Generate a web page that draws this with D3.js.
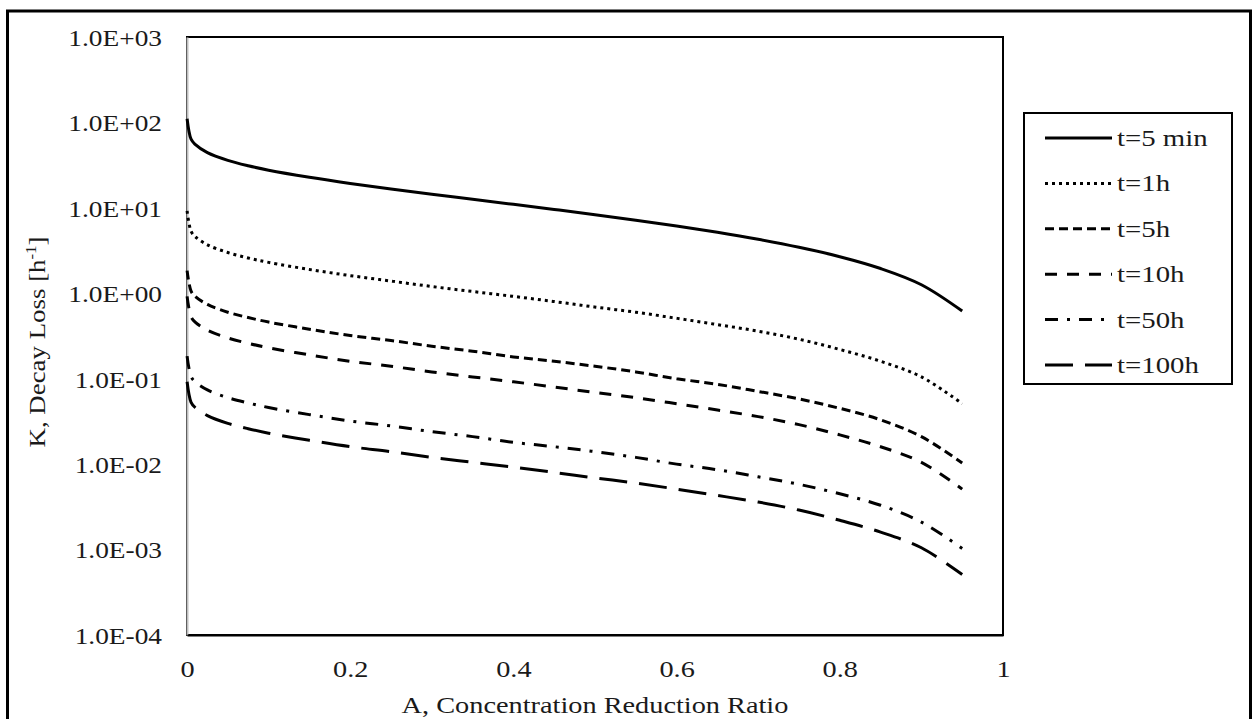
<!DOCTYPE html>
<html>
<head>
<meta charset="utf-8">
<script src="https://cdn.jsdelivr.net/npm/d3@7"></script>
<style>
	body { margin: 0; background: #fff; }
	text { font-family: "Liberation Serif", "Times New Roman", serif; fill: #1a1a1a; }
</style>
</head>
<body>
<div class="container"></div>
<script>

// concentration reduction ratio A (x values shared by every curve)
var ratioA = [0.0001, 0.005, 0.01, 0.025, 0.05, 0.075, 0.1, 0.15, 0.2, 0.25, 0.3, 0.35,
	0.4, 0.45, 0.5, 0.55, 0.6, 0.65, 0.7, 0.75, 0.8, 0.85, 0.9, 0.95];

// decay loss K [1/h], one array per time
var k5min = [110.5, 63.6, 55.3, 44.3, 36.0, 31.1, 27.6, 22.8, 19.3, 16.6, 14.4, 12.6,
	11.0, 9.58, 8.32, 7.17, 6.13, 5.17, 4.28, 3.45, 2.68, 1.95, 1.26, 0.62];
var k1h = [9.21, 5.30, 4.61, 3.69, 3.00, 2.59, 2.30, 1.90, 1.61, 1.39, 1.20, 1.05,
	0.92, 0.80, 0.69, 0.60, 0.51, 0.43, 0.36, 0.29, 0.22, 0.16, 0.105, 0.051];
var k5h = [1.84, 1.06, 0.92, 0.74, 0.60, 0.52, 0.46, 0.38, 0.32, 0.28, 0.24, 0.21,
	0.18, 0.16, 0.14, 0.12, 0.10, 0.086, 0.071, 0.058, 0.045, 0.033, 0.021, 0.0103];
var k10h = [0.92, 0.53, 0.46, 0.37, 0.30, 0.26, 0.23, 0.19, 0.16, 0.14, 0.12, 0.105,
	0.092, 0.080, 0.069, 0.060, 0.051, 0.043, 0.036, 0.029, 0.022, 0.016, 0.0105, 0.0051];
var k50h = [0.184, 0.106, 0.092, 0.074, 0.060, 0.052, 0.046, 0.038, 0.032, 0.028, 0.024, 0.021,
	0.018, 0.016, 0.014, 0.012, 0.010, 0.0086, 0.0071, 0.0058, 0.0045, 0.0033, 0.0021, 0.00103];
var k100h = [0.092, 0.053, 0.046, 0.037, 0.030, 0.026, 0.023, 0.019, 0.016, 0.014, 0.012, 0.0105,
	0.0092, 0.0080, 0.0069, 0.0060, 0.0051, 0.0043, 0.0036, 0.0029, 0.0022, 0.0016, 0.00105, 0.00051];

var seriesNames = ["t=5 min", "t=1h", "t=5h", "t=10h", "t=50h", "t=100h"];
var seriesValues = [k5min, k1h, k5h, k10h, k50h, k100h];

var xTicks = [0, 0.2, 0.4, 0.6, 0.8, 1];
var xTickLabels = ["0", "0.2", "0.4", "0.6", "0.8", "1"];
var yTicks = [1e-4, 1e-3, 1e-2, 1e-1, 1, 10, 100, 1000];
var yTickLabels = ["1.0E-04", "1.0E-03", "1.0E-02", "1.0E-01", "1.0E+00", "1.0E+01", "1.0E+02", "1.0E+03"];

var xTitle = "A, Concentration Reduction Ratio";

// line styles for each series
var dashes = ["none", "3,4", "9,5", "12,10", "13,9,3,9", "28,12"];

var W = 1253, H = 719;
var plot = {left: 187, right: 1003, top: 37, bottom: 635};
var stretch = 1.18; // glyphs in the picture are wider than plain Times

var svg = d3.select(".container")
	.append("svg")
	.attr("width", W)
	.attr("height", H);

svg.append("rect")
	.attr("width", W).attr("height", H)
	.style("fill", "#fff");

// outer border
svg.append("rect")
	.attr("x", 7.5).attr("y", 11)
	.attr("width", 1243).attr("height", 730)
	.style("fill", "none")
	.style("stroke", "#000")
	.style("stroke-width", "3px");

var x = d3.scaleLinear().domain([0, 1]).range([plot.left, plot.right]);
var y = d3.scaleLog().domain([1e-4, 1e3]).range([plot.bottom, plot.top]);

// plot frame
svg.append("rect")
	.attr("x", plot.left).attr("y", plot.top)
	.attr("width", plot.right - plot.left)
	.attr("height", plot.bottom - plot.top)
	.style("fill", "none")
	.style("stroke", "#000")
	.style("stroke-width", "2px");

var yAxis = svg.append("g")
	.attr("transform", "translate(" + plot.left + ",0)")
	.call(d3.axisLeft(y)
		.tickValues(yTicks)
		.tickSize(0)
		.tickFormat(function (d, i) { return yTickLabels[i]; }));
yAxis.select(".domain").style("stroke", "#bfbfbf").style("stroke-width", "2px");
yAxis.selectAll("text")
	.attr("x", -25 / 1.14)
	.attr("dy", "0.35em")
	.attr("transform", "scale(1.14,1)")
	.style("font-size", "24px")
	.style("font-family", "'Liberation Serif', serif")
	.style("fill", "#1a1a1a");

var xAxis = svg.append("g")
	.attr("transform", "translate(0," + plot.bottom + ")")
	.call(d3.axisBottom(x)
		.tickValues(xTicks)
		.tickSize(0)
		.tickFormat(function (d, i) { return xTickLabels[i]; }));
xAxis.select(".domain").style("stroke", "#000").style("stroke-width", "2px");
xAxis.selectAll(".tick text")
	.attr("y", 42)
	.attr("dy", 0)
	.attr("transform", "scale(" + stretch + ",1)")
	.style("font-size", "24px")
	.style("font-family", "'Liberation Serif', serif")
	.style("fill", "#1a1a1a");

// curves, smoothed like the spreadsheet lines
var line = d3.line()
	.x(function (d) { return x(d[0]); })
	.y(function (d) { return y(d[1]); })
	.curve(d3.curveCatmullRom.alpha(0.5));

seriesValues.forEach(function (vals, i) {
	var pts = ratioA.map(function (a, j) { return [a, vals[j]]; });
	svg.append("path")
		.datum(pts)
		.attr("d", line)
		.style("fill", "none")
		.style("stroke", "#000")
		.style("stroke-width", "3px")
		.style("stroke-dasharray", dashes[i]);
});

// axis titles
svg.append("text")
	.attr("transform", "translate(595,713) scale(" + stretch + ",1)")
	.attr("text-anchor", "middle")
	.style("font-size", "24px")
	.text(xTitle);

var yTitle = svg.append("text")
	.attr("transform", "translate(45,342) rotate(-90) scale(1.12,1)")
	.attr("text-anchor", "middle")
	.style("font-size", "24px");
yTitle.append("tspan").text("K, Decay Loss [h");
yTitle.append("tspan").attr("dy", -9).style("font-size", "15px").text("-1");
yTitle.append("tspan").attr("dy", 9).text("]");

// legend
var legend = svg.append("g");
legend.append("rect")
	.attr("x", 1024).attr("y", 113)
	.attr("width", 208).attr("height", 271)
	.style("fill", "#fff")
	.style("stroke", "#000")
	.style("stroke-width", "2px");

var rowY = d3.scalePoint().domain(seriesNames).range([138, 365]);

seriesNames.forEach(function (name, i) {
	var ry = rowY(name);
	legend.append("line")
		.attr("x1", 1045).attr("x2", 1112)
		.attr("y1", ry).attr("y2", ry)
		.style("stroke", "#000")
		.style("stroke-width", "3px")
		.style("stroke-dasharray", dashes[i]);
	legend.append("text")
		.attr("transform", "translate(1117," + (ry + 8) + ") scale(1.2,1)")
		.style("font-size", "24px")
		.text(name);
});

</script>
</body>
</html>
